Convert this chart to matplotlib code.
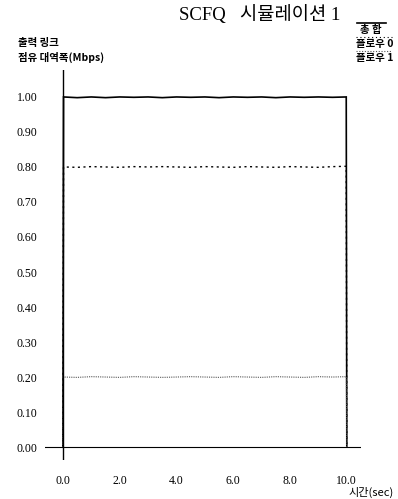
import matplotlib
matplotlib.use("Agg")
import matplotlib.pyplot as plt
from matplotlib.lines import Line2D

# ---- data ----
time = [0.0, 0.02, 0.5, 1.0, 1.5, 2.0, 2.5, 3.0, 3.5, 4.0, 4.5, 5.0, 5.5, 6.0,
        6.5, 7.0, 7.5, 8.0, 8.5, 9.0, 9.5, 9.98, 10.0]
total = [0.0, 1.0, 0.998, 1.0, 0.998, 1.0, 0.999, 1.0, 0.998, 1.0, 0.999, 1.0,
         0.998, 1.0, 0.999, 1.0, 0.998, 1.0, 0.999, 1.0, 0.999, 1.0, 0.0]
flow0 = [0.0, 0.80, 0.799, 0.801, 0.800, 0.799, 0.801, 0.800, 0.801, 0.800, 0.799,
         0.801, 0.800, 0.799, 0.801, 0.800, 0.799, 0.801, 0.800, 0.799, 0.801, 0.802, 0.0]
flow1 = [0.0, 0.20, 0.199, 0.201, 0.200, 0.199, 0.201, 0.200, 0.199, 0.200, 0.201,
         0.200, 0.199, 0.201, 0.200, 0.199, 0.201, 0.200, 0.199, 0.201, 0.200, 0.201, 0.0]
series_names = ["총 합", "플로우 0", "플로우 1"]
xticks = [0.0, 2.0, 4.0, 6.0, 8.0, 10.0]
yticks = [0.0, 0.1, 0.2, 0.3, 0.4, 0.5, 0.6, 0.7, 0.8, 0.9, 1.0]

SERIF = ["Liberation Serif", "Noto Sans CJK KR", "DejaVu Sans"]
CJK = ["Noto Sans CJK KR", "DejaVu Sans"]

W, H = 398, 499
fig = plt.figure(figsize=(W / 100, H / 100), dpi=100)
ax_l, ax_r, ax_t, ax_b = 44.5, 361, 70, 460
ax = fig.add_axes([ax_l / W, (H - ax_b) / H, (ax_r - ax_l) / W, (ax_b - ax_t) / H])
ax.set_xlim(-0.65, 10.5)
ax.set_ylim(-0.037, 1.077)
for s in ax.spines.values():
    s.set_visible(False)

ax.plot(time, total, color="black", lw=1.2, solid_joinstyle="miter")
ax.plot(time, flow0, color="black", lw=1.0, linestyle=(0, (1.5, 2.5)))
ax.plot(time, flow1, color="#555555", lw=0.8, linestyle=(0, (1, 1)))

ax.axhline(0, color="black", lw=0.8)
ax.axvline(0, color="black", lw=1.0)

ax.set_xticks(xticks)
ax.set_xticklabels([f"{v:.1f}" for v in xticks], fontfamily=SERIF, fontsize=8.5)
ax.set_yticks(yticks)
ax.set_yticklabels([f"{v:.2f}" for v in yticks], fontfamily=SERIF, fontsize=8.5)
ax.tick_params(axis="both", length=0)
ax.tick_params(axis="x", pad=11)
ax.tick_params(axis="y", pad=5)

fig.text(260 / W, 1 - 15 / H, "SCFQ   시뮬레이션 1", family=SERIF, fontsize=13.5,
         ha="center", va="center")
fig.text(18 / W, 1 - 43 / H, "출력 링크", family=CJK, fontsize=7.5, fontweight="bold",
         ha="left", va="center")
fig.text(18 / W, 1 - 57 / H, "점유 대역폭(Mbps)", family=CJK, fontsize=7.5,
         fontweight="bold", ha="left", va="center")
fig.text(394 / W, 1 - 492 / H, "시간(sec)", family=CJK, fontsize=8, ha="right", va="center")

# legend (manual)
legend_y = [23, 37, 51]
legend_x = [(357, 386), (356, 392), (356, 392)]
label_y = [30, 44, 58]
label_x = [(371, "center"), (393, "right"), (393, "right")]
styles = [dict(color="black", lw=1.2, linestyle="-"),
          dict(color="black", lw=0.8, linestyle=(0, (1, 2.5))),
          dict(color="#555555", lw=0.8, linestyle=(0, (1, 1.5)))]
for name, ly, lx, ty, tx, st in zip(series_names, legend_y, legend_x, label_y, label_x, styles):
    fig.add_artist(Line2D([lx[0] / W, lx[1] / W], [1 - ly / H, 1 - ly / H],
                          transform=fig.transFigure, **st))
    fig.text(tx[0] / W, 1 - ty / H, name, family=CJK, fontsize=7.5, fontweight="bold",
             ha=tx[1], va="center")

fig.savefig("out.png", dpi=100)
